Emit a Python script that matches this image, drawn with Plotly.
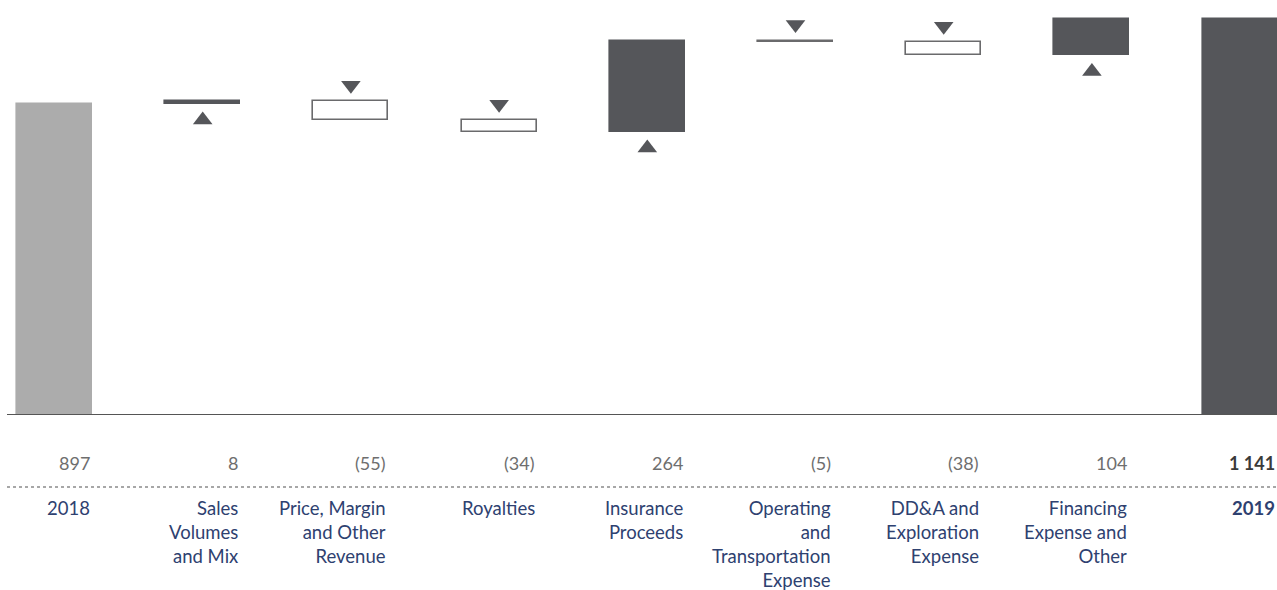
import plotly.graph_objects as go

categories = ["2018", "Sales<br>Volumes<br>and Mix", "Price, Margin<br>and Other<br>Revenue", "Royalties",
              "Insurance<br>Proceeds", "Operating<br>and<br>Transportation<br>Expense",
              "DD&A and<br>Exploration<br>Expense", "Financing<br>Expense and<br>Other", "2019"]
start_value = 897
changes = [8, -55, -34, 264, -5, -38, 104]
end_value = 1141
value_labels = ["897", "8", "(55)", "(34)", "264", "(5)", "(38)", "104", "1 141"]

W, H = 1277, 590
ML, MR, MT, MB = 7, 0, 0, 175
plot_h = H - MT - MB
YMAX = 1197
units_per_px = YMAX / plot_h

DARK = "#55565a"
LIGHT = "#acacac"
OUTLINE = "#6a6a6c"
VAL_COL = "#6e6e6e"
CAT_COL = "#2e4170"

bases, heights, fills, lines, signs = [], [], [], [], []
bases.append(0); heights.append(start_value); fills.append(LIGHT); lines.append(LIGHT); signs.append(0)
level = start_value
for d in changes:
    lo = min(level, level + d)
    bases.append(lo); heights.append(abs(d))
    if d >= 0:
        fills.append(DARK); lines.append(DARK); signs.append(1)
    else:
        fills.append("white"); lines.append(OUTLINE); signs.append(-1)
    level += d
bases.append(0); heights.append(end_value); fills.append(DARK); lines.append(DARK); signs.append(0)

xs = list(range(len(categories)))
bw = 0.506

fig = go.Figure()
fig.add_trace(go.Bar(x=xs, y=heights, base=bases, width=bw,
                     marker=dict(color=fills, line=dict(color=lines, width=1.6)),
                     hoverinfo="skip", showlegend=False))

# triangles
tx, ty, ts = [], [], []
for i in xs:
    if signs[i] > 0:
        tx.append(i); ty.append(bases[i] - 16 * units_per_px); ts.append("triangle-up")
    elif signs[i] < 0:
        tx.append(i); ty.append(bases[i] + heights[i] + 16 * units_per_px); ts.append("triangle-down")
fig.add_trace(go.Scatter(x=tx, y=ty, mode="markers", cliponaxis=False,
                         marker=dict(symbol=ts, size=17, color=DARK, line=dict(width=0)),
                         hoverinfo="skip", showlegend=False))

def py(px):
    return (plot_h - px) / plot_h

xr0 = -(54.5 - ML) / 148.2
xr1 = xr0 + (W - ML - MR) / 148.2

font_fam = "Lato, 'Open Sans', sans-serif"
for i in xs:
    last = i == len(categories) - 1
    ax = min(i + bw / 2, xr1 - 1e-4)
    fig.add_annotation(x=ax, xref="x", xanchor="right", y=py(463), yref="paper", yanchor="middle",
                       text=("<b>%s</b>" % value_labels[i]) if last else value_labels[i], showarrow=False,
                       font=dict(family=font_fam, size=18, color="#3a3a3a" if last else VAL_COL))
    fig.add_annotation(x=ax, xref="x", xanchor="right", y=py(495), yref="paper", yanchor="top",
                       text=("<b>%s</b>" % categories[i]) if last else categories[i], showarrow=False,
                       align="right",
                       font=dict(family=font_fam, size=18.5, color=CAT_COL))

fig.add_shape(type="line", xref="paper", yref="y", x0=0, x1=1, y0=0, y1=0,
              line=dict(color="#555555", width=2))
fig.add_shape(type="line", xref="paper", yref="paper", x0=0, x1=1, y0=py(487), y1=py(487),
              line=dict(color="#8a8a8a", width=1.5, dash="dot"))

fig.update_layout(width=W, height=H, margin=dict(l=ML, r=MR, t=MT, b=MB),
                  plot_bgcolor="white", paper_bgcolor="white", bargap=0,
                  xaxis=dict(range=[xr0, xr1], visible=False, fixedrange=True),
                  yaxis=dict(range=[0, YMAX], visible=False, fixedrange=True),
                  font=dict(family=font_fam))
fig.write_html("out.html", config={"displayModeBar": False},
               post_script="document.body.style.margin='0px';document.body.style.overflow='hidden';")
